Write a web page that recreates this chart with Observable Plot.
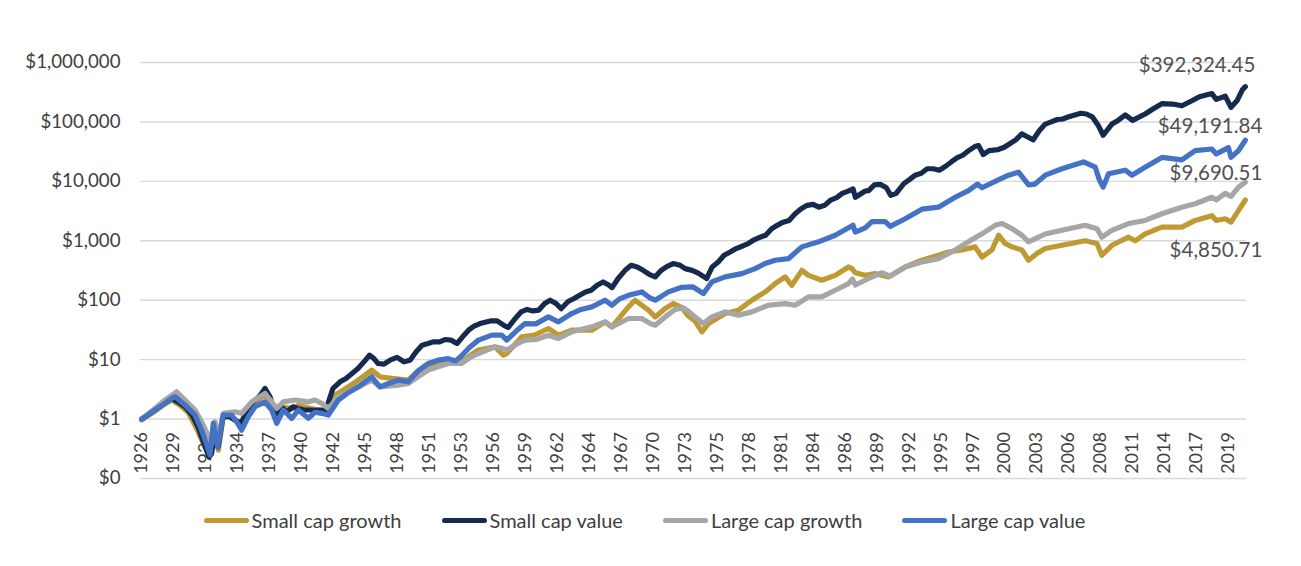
<!DOCTYPE html>
<html><head><meta charset="utf-8">
<script src="https://cdn.jsdelivr.net/npm/d3@7"></script>
<script src="https://cdn.jsdelivr.net/npm/@observablehq/plot@0.6"></script>
<style>
body{margin:0;background:#fff;font-family:Lato,"Open Sans",sans-serif;}
#chart{position:relative;width:1301px;height:566px;overflow:hidden;}
.legend{position:absolute;top:508px;left:0;width:1289px;display:flex;justify-content:center;gap:40px;font-size:20px;color:#404040;}
.item{display:flex;align-items:center;}
.sw{width:45px;height:5px;border-radius:2.5px;margin-right:3px;}
</style></head><body><div id="chart"></div>
<script>
// ---- Data (growth of $1, log scale) ----
const seriesNames = ["Small cap growth", "Small cap value", "Large cap growth", "Large cap value"];
const seriesColors = ["#BF9A33", "#162A4E", "#A6A6A6", "#4472C4"];

const smallCapGrowth = [[1926.5,0.97],[1927.5,1.3],[1928.5,1.8],[1929.1,2.1],[1929.8,1.7],[1930.5,1.3],[1931.3,0.65],[1931.9,0.35],[1932.4,0.27],[1932.8,0.6],[1933.1,0.3],[1933.5,1.05],[1934.0,1.1],[1934.6,0.95],[1935.1,0.85],[1935.6,1.3],[1936.2,1.8],[1937.1,2.6],[1937.6,2.0],[1938.1,1.1],[1938.7,1.6],[1939.5,1.5],[1940.0,1.7],[1941.0,1.5],[1942.0,1.4],[1942.5,1.3],[1943.13,2.53],[1944.2,3.4],[1945.14,4.52],[1946.29,6.66],[1947.0,5.14],[1948.0,4.83],[1949.44,4.52],[1950.3,6.5],[1951.16,8.08],[1952.88,9.8],[1954.03,9.19],[1954.8,12],[1955.47,14.5],[1956.9,16.4],[1957.62,11.9],[1957.91,12.7],[1959.2,24.2],[1960.3,26],[1961.49,33.4],[1962.35,25.8],[1963.5,31.3],[1965.23,31.3],[1966.37,43.2],[1966.95,35.6],[1968.38,77.2],[1968.95,100],[1970.1,67.9],[1970.68,52.4],[1971.54,72.4],[1972.25,87.8],[1972.97,75],[1973.5,55],[1974.1,45],[1974.7,29.4],[1975.26,40.5],[1976.7,59.7],[1977.84,67.9],[1978.99,100],[1980.14,138],[1981.0,190],[1981.86,247],[1982.43,178],[1983.3,318],[1983.87,262],[1985.01,217],[1986.17,262],[1987.31,363],[1987.6,340],[1987.9,290],[1988.75,262],[1989.61,280],[1990.76,247],[1992.19,363],[1993.62,470],[1995.05,571],[1995.91,647],[1997.06,700],[1998.2,790],[1998.79,533],[1999.65,700],[2000.22,1240],[2000.79,900],[2001.37,790],[2002.23,700],[2002.8,470],[2003.52,610],[2004.24,740],[2005.67,840],[2007.67,1000],[2008.68,900],[2009.11,571],[2009.97,840],[2011.4,1150],[2011.97,1000],[2012.83,1310],[2014.27,1700],[2015.99,1700],[2017.14,2200],[2018.57,2650],[2018.95,2200],[2019.72,2350],[2020.22,2060],[2020.87,3240],[2021.45,4850.71]];

const smallCapValue = [[1926.5,1.0],[1927.47,1.35],[1928.5,1.9],[1929.08,2.23],[1929.8,1.84],[1930.23,1.61],[1930.83,1.17],[1931.35,0.74],[1931.8,0.42],[1932.29,0.23],[1932.51,0.26],[1932.81,0.65],[1933.07,0.34],[1933.5,1.09],[1934.01,1.12],[1934.53,0.96],[1935.05,0.85],[1935.56,1.42],[1936.08,1.95],[1936.6,2.37],[1937.11,3.28],[1937.54,2.37],[1937.97,1.17],[1938.49,1.61],[1939.0,1.33],[1939.52,1.61],[1939.95,1.51],[1940.47,1.42],[1940.98,1.42],[1941.5,1.4],[1942.02,1.42],[1942.28,1.3],[1942.96,3.28],[1943.57,4.24],[1944.08,4.83],[1944.6,5.86],[1945.11,7.1],[1945.63,9.19],[1946.1,11.9],[1946.49,10.4],[1946.84,8.6],[1947.35,8.4],[1947.87,9.8],[1948.47,10.9],[1949.07,9.19],[1949.59,9.8],[1950.1,13.5],[1950.62,17.5],[1951.14,18.7],[1951.57,19.9],[1952.13,19.9],[1952.6,21.8],[1953.12,21.3],[1953.63,18.7],[1954.11,24.2],[1954.62,31.3],[1955.1,36.5],[1955.61,40.5],[1956.13,43],[1956.6,45],[1957.08,45],[1957.64,38],[1958.02,34.7],[1958.63,49],[1959.14,63.5],[1959.66,70],[1960.17,66],[1960.65,68],[1961.17,88],[1961.64,100],[1962.15,88],[1962.59,72],[1963.19,95],[1963.7,107],[1964.18,121],[1964.69,138],[1965.17,147],[1965.68,178],[1966.2,203],[1966.72,178],[1966.97,163],[1967.49,232],[1968.09,318],[1968.61,387],[1969.13,363],[1969.64,318],[1970.16,273],[1970.68,247],[1971.2,318],[1971.71,372],[1972.23,414],[1972.83,387],[1973.26,340],[1973.86,318],[1974.38,286],[1974.89,247],[1975.11,232],[1975.58,363],[1976.1,440],[1976.61,571],[1977.13,647],[1977.64,740],[1978.16,810],[1978.68,900],[1979.19,1040],[1979.71,1150],[1980.18,1240],[1980.7,1600],[1981.17,1820],[1981.69,2060],[1982.2,2200],[1982.72,2850],[1983.24,3470],[1983.75,3950],[1984.27,4100],[1984.75,3680],[1985.26,3950],[1985.78,4850],[1986.29,5330],[1986.77,6270],[1987.28,6870],[1987.7,7470],[1987.9,5400],[1988.75,6870],[1989.05,7000],[1989.52,8700],[1990.04,8900],[1990.55,7900],[1990.95,5800],[1991.41,6270],[1992.06,9120],[1992.58,10800],[1993.05,12700],[1993.57,13700],[1994.08,16300],[1994.6,16300],[1995.12,15400],[1995.63,17800],[1996.15,21200],[1996.67,25000],[1997.14,27500],[1997.66,33000],[1998.17,38500],[1998.5,40000],[1998.9,28300],[1999.4,33000],[2000.19,34300],[2000.71,37500],[2001.18,43000],[2001.7,50000],[2002.22,63000],[2002.73,55800],[2003.2,50000],[2003.72,71000],[2004.24,92000],[2004.75,100000],[2005.27,110000],[2005.74,112000],[2006.26,122000],[2006.78,131000],[2007.29,140000],[2007.77,136000],[2008.28,122000],[2008.8,87000],[2009.22,59700],[2009.97,92000],[2010.5,106000],[2011.11,131000],[2011.75,106000],[2012.83,136000],[2013.5,165000],[2014.27,203000],[2015.2,200000],[2015.99,187000],[2016.85,227000],[2017.5,265000],[2018.57,300000],[2018.95,240000],[2019.72,272000],[2020.22,176000],[2020.73,227000],[2021.2,350000],[2021.45,392324.45]];

const largeCapGrowth = [[1926.5,1.0],[1927.64,1.51],[1928.5,2.09],[1929.51,2.88],[1930.23,2.09],[1931.09,1.42],[1931.8,0.79],[1932.52,0.39],[1932.81,0.9],[1933.09,0.44],[1933.52,1.25],[1934.53,1.33],[1935.1,1.25],[1935.96,1.95],[1937.11,2.7],[1938.12,1.51],[1938.69,1.95],[1939.69,2.09],[1940.84,1.95],[1941.42,2.09],[1941.99,1.84],[1942.56,1.51],[1943.42,2.37],[1944.3,2.9],[1945.14,3.49],[1946.29,4.52],[1947.0,3.49],[1948.58,3.72],[1949.44,3.98],[1950.3,5.2],[1951.16,6.66],[1952.0,7.6],[1952.88,8.62],[1954.03,8.62],[1954.8,11],[1955.47,12.7],[1956.9,16.4],[1957.62,15.4],[1957.91,14.5],[1958.7,18],[1959.49,21.3],[1960.5,22],[1961.49,25.8],[1962.35,22.7],[1963.5,29.4],[1965.23,35.6],[1966.37,43.2],[1966.95,35.6],[1968.38,49.2],[1969.53,49.2],[1970.3,40],[1970.68,38],[1971.54,52.4],[1972.4,70],[1973.11,74],[1973.5,66],[1974.12,52.4],[1974.83,40.5],[1975.55,52.4],[1976.7,63.6],[1977.84,55.9],[1978.99,63.6],[1980.42,82.3],[1981.86,87.8],[1982.72,82.3],[1983.87,114],[1985.01,114],[1986.17,147],[1987.31,190],[1987.65,228],[1987.9,180],[1989.0,230],[1989.5,255],[1990.18,290],[1990.9,255],[1992.19,363],[1993.62,440],[1995.05,500],[1996.49,700],[1997.63,960],[1998.79,1310],[1999.93,1820],[2000.51,1950],[2001.37,1600],[2002.23,1240],[2002.8,960],[2003.66,1150],[2004.24,1300],[2005.67,1500],[2007.67,1820],[2008.68,1600],[2009.11,1150],[2009.97,1500],[2011.4,1950],[2012.83,2200],[2014.27,2850],[2015.99,3680],[2017.14,4200],[2018.57,5400],[2018.95,4900],[2019.72,6270],[2020.22,5600],[2020.87,8000],[2021.45,9690.51]];

const largeCapValue = [[1926.5,1.0],[1927.64,1.42],[1928.5,1.84],[1929.08,2.23],[1929.37,2.37],[1930.23,1.72],[1931.09,1.17],[1931.66,0.65],[1932.09,0.37],[1932.38,0.25],[1932.66,0.85],[1933.04,0.34],[1933.52,1.17],[1934.24,1.17],[1934.67,0.9],[1935.1,0.65],[1935.67,1.09],[1936.25,1.61],[1937.11,1.95],[1937.69,1.42],[1938.12,0.85],[1938.69,1.42],[1939.41,1.03],[1939.98,1.42],[1940.84,1.03],[1941.42,1.3],[1941.99,1.25],[1942.56,1.17],[1943.42,2.09],[1944.3,2.8],[1945.14,3.49],[1946.29,5.14],[1947.0,3.49],[1947.8,4.0],[1948.58,4.52],[1949.44,4.24],[1950.3,6.5],[1951.16,8.62],[1952.0,9.8],[1952.88,10.4],[1953.5,9.5],[1954.0,11.5],[1954.7,16],[1955.47,21.3],[1956.62,25.8],[1957.48,25.8],[1957.91,21.3],[1958.7,30],[1959.49,40.5],[1960.4,40],[1961.49,52.4],[1962.35,43.2],[1963.5,59.7],[1964.3,70],[1965.23,77.2],[1966.37,100],[1966.95,82.3],[1967.6,105],[1968.38,121],[1969.53,138],[1970.2,110],[1970.68,100],[1971.82,138],[1972.97,165],[1973.9,168],[1974.83,130],[1975.55,203],[1976.7,247],[1978.13,280],[1979.28,340],[1980.2,420],[1981.0,470],[1982.14,500],[1983.3,790],[1984.73,960],[1986.17,1240],[1987.7,1820],[1987.9,1400],[1988.75,1650],[1989.33,2100],[1990.47,2100],[1990.9,1750],[1992.19,2350],[1993.62,3400],[1995.05,3680],[1996.49,5400],[1997.63,7000],[1998.4,9000],[1998.79,7800],[1999.93,10000],[2001.08,12700],[2001.94,14300],[2002.8,8700],[2003.35,9000],[2004.24,12700],[2005.67,16300],[2007.53,21200],[2008.54,17300],[2008.9,10500],[2009.22,8000],[2009.68,13400],[2011.11,15400],[2011.69,12700],[2012.83,17300],[2014.27,25300],[2015.99,23000],[2017.14,33000],[2018.57,35000],[2018.95,29000],[2020.0,37000],[2020.22,25300],[2020.87,33000],[2021.45,49191.84]];

const seriesData = [smallCapGrowth, smallCapValue, largeCapGrowth, largeCapValue];

const yTicks = [0.1, 1, 10, 100, 1000, 10000, 100000, 1000000];
const yTickLabels = ["$0", "$1", "$10", "$100", "$1,000", "$10,000", "$100,000", "$1,000,000"];
const xTickLabels = ["1926","1929","1931","1934","1937","1940","1942","1945","1948","1951","1953","1956","1959","1962","1964","1967","1970","1973","1975","1978","1981","1984","1986","1989","1992","1995","1997","2000","2003","2006","2008","2011","2014","2017","2019"];

// ---- Chart ----
const fmt = d3.format("$,.2f");
const lastPoint = s => s[s.length - 1];
const xTickRows = xTickLabels.map((label, i) => ({label, x: 1926.5 + 2.75 * i}));

const lineMarks = seriesData.map((s, i) =>
  Plot.line(s, {x: d => d[0], y: d => d[1], stroke: seriesColors[i], strokeWidth: 5.2, strokeLinejoin: "round", strokeLinecap: "round"}));

const endLabel = (s, dx, dy) => Plot.text([lastPoint(s)], {
  x: d => d[0], y: d => d[1], text: d => fmt(d[1]),
  textAnchor: "end", lineAnchor: "middle", dx, dy, fontSize: 20.5, fill: "#525252"
});

const chart = Plot.plot({
  width: 1301, height: 498,
  marginTop: 62, marginBottom: 20, marginLeft: 140, marginRight: 55,
  style: {fontFamily: "Lato, 'Open Sans', sans-serif", color: "#404040", background: "white"},
  x: {type: "linear", domain: [1926.4, 2021.55], axis: null},
  y: {type: "log", domain: [0.1, 1000000], axis: null},
  marks: [
    Plot.ruleY(yTicks, {stroke: "#D9D9D9", strokeWidth: 1.4}),
    Plot.axisY({ticks: yTicks, tickFormat: d => yTickLabels[yTicks.indexOf(d)], tickSize: 0, tickPadding: 20, fontSize: 18.7, label: null}),
    Plot.text(xTickRows, {x: "x", y: () => 1, text: "label", rotate: -90, textAnchor: "end", lineAnchor: "middle", dy: 13, fontSize: 18, fill: "#404040"}),
    ...lineMarks,
    endLabel(smallCapValue, 10, -21),
    endLabel(largeCapValue, 17, -14),
    endLabel(largeCapGrowth, 17, -9),
    endLabel(smallCapGrowth, 17, 50)
  ]
});

const root = document.getElementById("chart");
root.appendChild(chart);
const legend = document.createElement("div");
legend.className = "legend";
seriesNames.forEach((name, i) => {
  const item = document.createElement("div");
  item.className = "item";
  const sw = document.createElement("span");
  sw.className = "sw";
  sw.style.background = seriesColors[i];
  const t = document.createElement("span");
  t.textContent = name;
  item.appendChild(sw); item.appendChild(t);
  legend.appendChild(item);
});
root.appendChild(legend);
</script></body></html>
